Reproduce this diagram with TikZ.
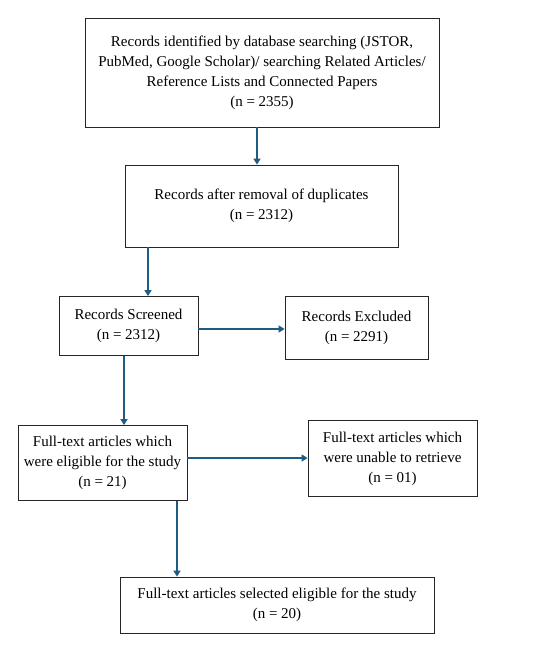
\documentclass[tikz,border=0pt]{standalone}
\usepackage{fontspec}
\setmainfont{Liberation Serif}
\usepackage{tikz}
\usetikzlibrary{arrows.meta}

\definecolor{flowblue}{RGB}{31,92,133}

\begin{document}
\begin{tikzpicture}[x=1pt,y=-1pt,
  stage/.style={draw=black!85,line width=0.8pt,align=center,inner sep=0pt,
    font=\fontsize{15}{20}\selectfont},
  flow/.style={draw=flowblue,line width=1.5pt,-{Triangle[length=6pt,width=7pt]}}]

\useasboundingbox (0,0) rectangle (552,656);

% --- identificacion ---
\node[stage,minimum width=354pt,minimum height=109pt] (ident) at (262,72.5)
  {Records identified by database searching (JSTOR,\\
   PubMed, Google Scholar)/ searching Related Articles/\\
   Reference Lists and Connected Papers\\
   (n = 2355)};

% sin duplicados
\node[stage,minimum width=273pt,minimum height=82pt] (nodup) at (261.5,206)
  {Records after removal of duplicates\\(n = 2312)};

% --- cribado ---
\node[stage,minimum width=139pt,minimum height=59pt] (screen) at (128.5,326)
  {Records Screened\\(n = 2312)};
\node[stage,minimum width=143pt,minimum height=63pt] (excl) at (356.5,328)
  {Records Excluded\\(n = 2291)};

% --- elegibilidad ---
\node[stage,minimum width=169pt,minimum height=75pt] (fulltxt) at (102.5,463)
  {Full-text articles which\\were eligible for the study\\(n = 21)};
\node[stage,minimum width=169pt,minimum height=76pt] (noretr) at (392.5,458.5)
  {Full-text articles which\\were unable to retrieve\\(n = 01)};

% --- incluidos ---
\node[stage,minimum width=314pt,minimum height=56pt] (select) at (277,605)
  {Full-text articles selected eligible for the study\\(n = 20)};

% flechas
\draw[flow] ([xshift=-5pt]ident.south) -- ([xshift=-5pt]ident.south |- nodup.north);
\draw[flow] ([xshift=-113.5pt]nodup.south) -- ([xshift=-113.5pt]nodup.south |- screen.north);
\draw[flow] ([yshift=-3pt]screen.east) -- ([yshift=-3pt]screen.east -| excl.west);
\draw[flow] ([xshift=-4.5pt]screen.south) -- ([xshift=-4.5pt]screen.south |- fulltxt.north);
\draw[flow] ([yshift=5pt]fulltxt.east) -- ([yshift=5pt]fulltxt.east -| noretr.west);
\draw[flow] ([xshift=74.5pt]fulltxt.south) -- ([xshift=74.5pt]fulltxt.south |- select.north);

\end{tikzpicture}
\end{document}
